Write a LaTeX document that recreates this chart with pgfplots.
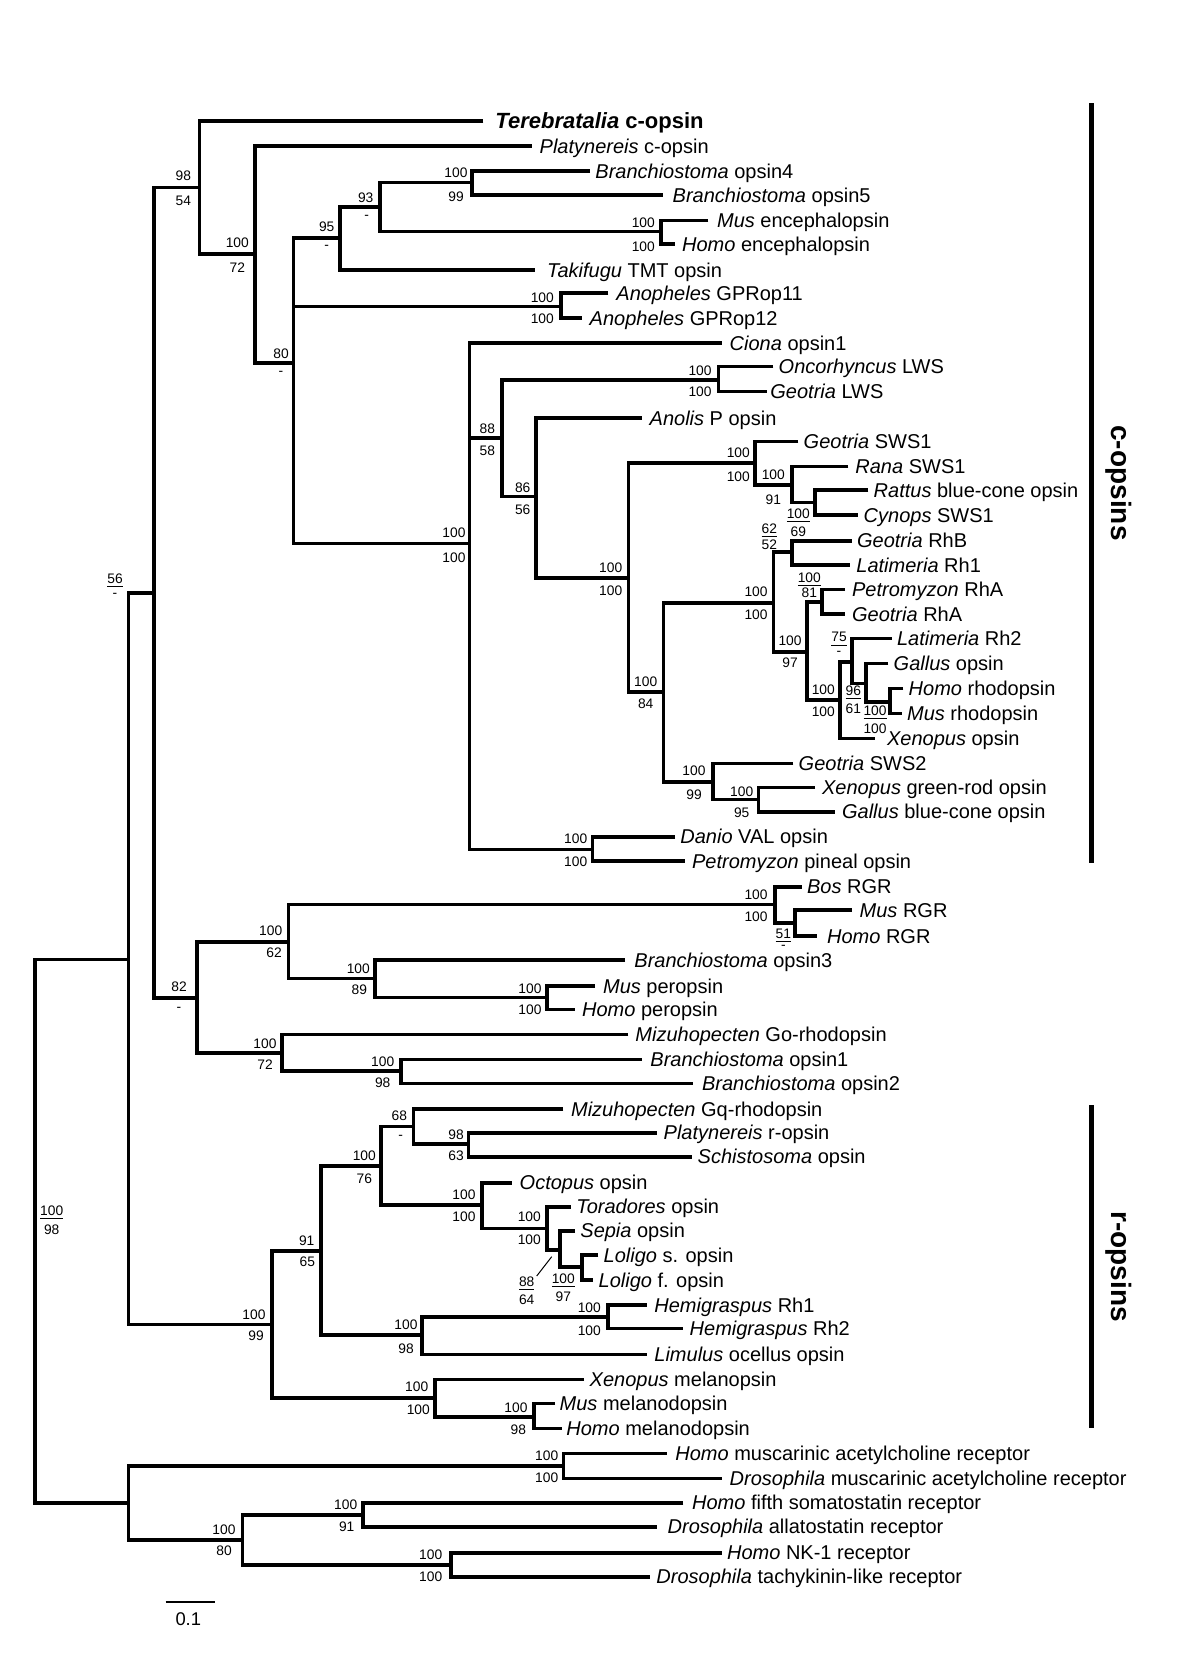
\documentclass[border=0pt]{standalone}
\usepackage{pgfplots}
\pgfplotsset{compat=1.18}
\usepackage{fontspec}
\setmainfont{Liberation Sans}
\tikzset{
  tx/.style={anchor=base west, inner sep=0pt, font=\fontsize{10}{12}\selectfont, yshift=-3.6pt},
  bsl/.style={anchor=center, inner sep=0pt, font=\fontsize{6.9}{8}\selectfont},
  br/.style={black, line width=1.8pt, line join=miter, line cap=butt},
}
\newcommand\TX[3]{\node[tx] at (axis cs:#1,#2) {#3};}
\newcommand\BS[3]{\node[bsl] at (axis cs:#1,#2) {#3};}
\newcommand\BR[1]{\addplot[br] coordinates {#1};}
\newcommand\ul[1]{\underline{#1}}
\begin{document}
\begin{tikzpicture}
\begin{axis}[
  scale only axis, width=600pt, height=828.5pt,
  xmin=0, xmax=1200, ymin=0, ymax=1657, y dir=reverse,
  hide axis, clip=false,
]
\path (rel axis cs:0,0) rectangle (rel axis cs:1,1);
% ---------------- branches ----------------
\BR{(128.3,959.3)(35,959.3)(35,1502.7)(128.3,1502.7)}
\BR{(154,592.7)(128.3,592.7)(128.3,1324.3)(271.7,1324.3)}
\BR{(199.3,187.7)(154,187.7)(154,997.7)(196.7,997.7)}
\BR{(483.3,121)(199.3,121)(199.3,254.3)(255,254.3)}
\BR{(531.7,146)(255,146)(255,363.3)(293.3,363.3)}
\BR{(340,238.3)(293.3,238.3)(293.3,543.3)(469.3,543.3)}
\BR{(293.3,306.7)(561,306.7)}
\BR{(380,207.3)(340,207.3)(340,270)(535,270)}
\BR{(471.7,182.7)(380,182.7)(380,231.7)(661,231.7)}
\BR{(590,171)(471.7,171)(471.7,195)(663.3,195)}
\BR{(708.3,220.7)(661,220.7)(661,244.3)(675,244.3)}
\BR{(608.3,293.3)(561,293.3)(561,318.3)(581.7,318.3)}
\BR{(721.7,343.3)(469.3,343.3)(469.3,849.3)(592.3,849.3)}
\BR{(469.3,438.3)(501.7,438.3)}
\BR{(718.3,380)(501.7,380)(501.7,496.7)(536,496.7)}
\BR{(773.3,366.7)(718.3,366.7)(718.3,391.7)(766.7,391.7)}
\BR{(641.7,418.3)(536,418.3)(536,577.7)(628.3,577.7)}
\BR{(755,463.3)(628.3,463.3)(628.3,691.7)(663.3,691.7)}
\BR{(798.3,441.7)(755,441.7)(755,485)(791.7,485)}
\BR{(848.3,466.7)(791.7,466.7)(791.7,502.5)(815,502.5)}
\BR{(868.3,490)(815,490)(815,515)(858.3,515)}
\BR{(773.5,602.7)(663.3,602.7)(663.3,781.7)(712.7,781.7)}
\BR{(791.7,551.7)(773.5,551.7)(773.5,651.7)(806.7,651.7)}
\BR{(851.7,540.7)(791.7,540.7)(791.7,565)(850,565)}
\BR{(821.7,601.7)(806.7,601.7)(806.7,700)(840,700)}
\BR{(845,589.3)(821.7,589.3)(821.7,614)(845,614)}
\BR{(851.7,661.7)(840,661.7)(840,738.3)(875,738.3)}
\BR{(891.7,638.3)(851.7,638.3)(851.7,683.3)(866,683.3)}
\BR{(888.3,663.3)(866,663.3)(866,701.7)(890,701.7)}
\BR{(903.3,688.3)(890,688.3)(890,713.3)(901.7,713.3)}
\BR{(793.3,763.3)(712.7,763.3)(712.7,799.3)(758.3,799.3)}
\BR{(815,787.3)(758.3,787.3)(758.3,811.7)(835,811.7)}
\BR{(675,836.7)(592.3,836.7)(592.3,861)(685,861)}
\BR{(288.3,941.7)(196.7,941.7)(196.7,1052.7)(281.7,1052.7)}
\BR{(775,904.3)(288.3,904.3)(288.3,978.3)(375,978.3)}
\BR{(801.7,886.7)(775,886.7)(775,923)(795,923)}
\BR{(851.7,910)(795,910)(795,936)(816.7,936)}
\BR{(625,960)(375,960)(375,997.3)(546.7,997.3)}
\BR{(595,986)(546.7,986)(546.7,1009.3)(575,1009.3)}
\BR{(628.3,1034.3)(281.7,1034.3)(281.7,1071)(400.7,1071)}
\BR{(641.7,1059.3)(400.7,1059.3)(400.7,1083.3)(693.3,1083.3)}
\BR{(320.7,1250.7)(271.7,1250.7)(271.7,1397.7)(435,1397.7)}
\BR{(380.7,1166)(320.7,1166)(320.7,1335)(421.7,1335)}
\BR{(413.3,1126.5)(380.7,1126.5)(380.7,1205)(481.7,1205)}
\BR{(563.3,1109)(413.3,1109)(413.3,1144)(468.3,1144)}
\BR{(656.7,1132.7)(468.3,1132.7)(468.3,1156.7)(691.7,1156.7)}
\BR{(511.7,1182.7)(481.7,1182.7)(481.7,1228.3)(546.7,1228.3)}
\BR{(570.7,1206.7)(546.7,1206.7)(546.7,1250)(560,1250)}
\BR{(575,1230.7)(560,1230.7)(560,1266.7)(581.7,1266.7)}
\BR{(598.3,1255)(581.7,1255)(581.7,1280)(593.3,1280)}
\BR{(607.7,1316.7)(421.7,1316.7)(421.7,1354.3)(646.7,1354.3)}
\BR{(646.7,1305)(607.7,1305)(607.7,1328.3)(683.3,1328.3)}
\BR{(584,1379.3)(435,1379.3)(435,1416.7)(534,1416.7)}
\BR{(555,1403.3)(534,1403.3)(534,1428.3)(561.7,1428.3)}
\BR{(563.3,1465.7)(128.3,1465.7)(128.3,1540)(242.3,1540)}
\BR{(666.7,1453.3)(563.3,1453.3)(563.3,1478.3)(721.7,1478.3)}
\BR{(362.7,1515)(242.3,1515)(242.3,1565)(451,1565)}
\BR{(683.3,1502.7)(362.7,1502.7)(362.7,1526.7)(656.7,1526.7)}
\BR{(721.7,1552.7)(451,1552.7)(451,1576.7)(650,1576.7)}
% group bars, scale bar, leader
\addplot[black, line width=2.6pt] coordinates {(1091.7,103.3)(1091.7,863.3)};
\addplot[black, line width=2.6pt] coordinates {(1091.7,1105)(1091.7,1428.3)};
\addplot[black, line width=1.1pt] coordinates {(165.7,1602.3)(215,1602.3)};
\addplot[black, line width=0.5pt] coordinates {(536.7,1276)(551.7,1256.7)};
% ---------------- taxa ----------------
\node[tx, font=\fontsize{11}{13}\selectfont\bfseries, yshift=-0.4pt] at (axis cs:495,121) {\textit{Terebratalia} c-opsin};
\TX{539.3}{146}{\textit{Platynereis} c-opsin}
\TX{595}{171}{\textit{Branchiostoma} opsin4}
\TX{672.3}{195}{\textit{Branchiostoma} opsin5}
\TX{716.7}{220.7}{\textit{Mus} encephalopsin}
\TX{681.7}{244.3}{\textit{Homo} encephalopsin}
\TX{546.7}{270}{\textit{Takifugu} TMT opsin}
\TX{616}{293.3}{\textit{Anopheles} GPRop11}
\TX{589.3}{318.3}{\textit{Anopheles} GPRop12}
\TX{729.3}{343.3}{\textit{Ciona} opsin1}
\TX{778.3}{366.7}{\textit{Oncorhyncus} LWS}
\TX{770}{391.7}{\textit{Geotria} LWS}
\TX{649.3}{418.3}{\textit{Anolis} P opsin}
\TX{803.3}{441.7}{\textit{Geotria} SWS1}
\TX{855}{466.7}{\textit{Rana} SWS1}
\TX{873.3}{490}{\textit{Rattus} blue-cone opsin}
\TX{863.3}{515}{\textit{Cynops} SWS1}
\TX{856.7}{540.7}{\textit{Geotria} RhB}
\TX{856}{565}{\textit{Latimeria} Rh1}
\TX{851.7}{589.3}{\textit{Petromyzon} RhA}
\TX{851.7}{614}{\textit{Geotria} RhA}
\TX{896.7}{638.3}{\textit{Latimeria} Rh2}
\TX{893.3}{663.3}{\textit{Gallus} opsin}
\TX{908.3}{688.3}{\textit{Homo} rhodopsin}
\TX{906.7}{713.3}{\textit{Mus} rhodopsin}
\TX{886.7}{738.3}{\textit{Xenopus} opsin}
\TX{798.3}{763.3}{\textit{Geotria} SWS2}
\TX{821.7}{787.3}{\textit{Xenopus} green-rod opsin}
\TX{841.7}{811.7}{\textit{Gallus} blue-cone opsin}
\TX{680}{836.7}{\textit{Danio} VAL opsin}
\TX{691.7}{861}{\textit{Petromyzon} pineal opsin}
\TX{806.7}{886.7}{\textit{Bos} RGR}
\TX{859.3}{910}{\textit{Mus} RGR}
\TX{826.7}{936}{\textit{Homo} RGR}
\TX{634}{960}{\textit{Branchiostoma} opsin3}
\TX{602.7}{986}{\textit{Mus} peropsin}
\TX{581.7}{1009.3}{\textit{Homo} peropsin}
\TX{635}{1034.3}{\textit{Mizuhopecten} Go-rhodopsin}
\TX{650}{1059.3}{\textit{Branchiostoma} opsin1}
\TX{701.7}{1083.3}{\textit{Branchiostoma} opsin2}
\TX{570.7}{1109}{\textit{Mizuhopecten} Gq-rhodopsin}
\TX{663.3}{1132.7}{\textit{Platynereis} r-opsin}
\TX{697.3}{1156.7}{\textit{Schistosoma} opsin}
\TX{519.3}{1182.7}{\textit{Octopus} opsin}
\TX{576}{1206.7}{\textit{Toradores} opsin}
\TX{580}{1230.7}{\textit{Sepia} opsin}
\TX{603.3}{1255}{\textit{Loligo} s. opsin}
\TX{598.3}{1280}{\textit{Loligo} f. opsin}
\TX{654}{1305}{\textit{Hemigraspus} Rh1}
\TX{689.3}{1328.3}{\textit{Hemigraspus} Rh2}
\TX{654}{1354.3}{\textit{Limulus} ocellus opsin}
\TX{589.3}{1379.3}{\textit{Xenopus} melanopsin}
\TX{559.3}{1403.3}{\textit{Mus} melanodopsin}
\TX{566}{1428.3}{\textit{Homo} melanodopsin}
\TX{675}{1453.3}{\textit{Homo} muscarinic acetylcholine receptor}
\TX{729.3}{1478.3}{\textit{Drosophila} muscarinic acetylcholine receptor}
\TX{691.7}{1502.7}{\textit{Homo} fifth somatostatin receptor}
\TX{667.3}{1526.7}{\textit{Drosophila} allatostatin receptor}
\TX{726.7}{1552.7}{\textit{Homo} NK-1 receptor}
\TX{656}{1576.7}{\textit{Drosophila} tachykinin-like receptor}
% ---------------- support values ----------------
\BS{183.3}{176}{98}\BS{183.3}{201}{54}
\BS{237.3}{242.7}{100}\BS{237.3}{267.3}{72}
\BS{281}{353.3}{80}\BS{281}{373.3}{-}
\BS{326.7}{226.7}{95}\BS{326.7}{247.3}{-}
\BS{365.7}{197.3}{93}\BS{366.7}{217.7}{-}
\BS{456}{172.7}{100}\BS{456}{196.7}{99}
\BS{643.3}{222.7}{100}\BS{643.3}{246.7}{100}
\BS{542.3}{297.3}{100}\BS{542.3}{318.7}{100}
\BS{454}{532.7}{100}\BS{454}{557.7}{100}
\BS{487.3}{429}{88}\BS{487.3}{451}{58}
\BS{700}{370.7}{100}\BS{700}{391.7}{100}
\BS{522.7}{487.3}{86}\BS{522.7}{509.3}{56}
\BS{610.7}{567.3}{100}\BS{610.7}{591}{100}
\BS{738.3}{452.7}{100}\BS{738.3}{476.7}{100}
\BS{773.3}{475}{100}\BS{773.3}{499.3}{91}
\BS{798.3}{516}{\ul{100}}\BS{798.3}{531.7}{69}
\BS{769.3}{530.3}{\ul{62}}\BS{769.3}{545}{52}
\BS{756}{591.7}{100}\BS{756}{614.3}{100}
\BS{809.3}{579.3}{\ul{100}}\BS{809.3}{592.7}{81}
\BS{790}{640.7}{100}\BS{790}{662.3}{97}
\BS{823.3}{689.3}{100}\BS{823.3}{711.7}{100}
\BS{839}{639.3}{\ul{75}}\BS{839}{653.3}{-}
\BS{853.3}{692.7}{\ul{96}}\BS{853.3}{708.3}{61}
\BS{875}{712.7}{\ul{100}}\BS{875}{728.3}{100}
\BS{645.7}{681.7}{100}\BS{645.7}{704}{84}
\BS{694}{770.7}{100}\BS{694}{795}{99}
\BS{741.7}{791.7}{100}\BS{741.7}{812.7}{95}
\BS{575.7}{838.3}{100}\BS{575.7}{861.7}{100}
\BS{756}{895}{100}\BS{756}{916.7}{100}
\BS{783.3}{936}{\ul{51}}\BS{783.3}{947.3}{-}
\BS{270.7}{930.7}{100}\BS{274}{952.7}{62}
\BS{358.3}{968.3}{100}\BS{359.3}{990}{89}
\BS{530}{989}{100}\BS{530}{1010}{100}
\BS{179}{986.7}{82}\BS{179}{1009.3}{-}
\BS{265}{1043.3}{100}\BS{265}{1065}{72}
\BS{382.7}{1061.7}{100}\BS{382.7}{1082.7}{98}
\BS{115}{580.3}{\ul{56}}\BS{115}{595}{-}
\BS{51.7}{1212.7}{\ul{100}}\BS{51.7}{1230}{98}
\BS{254}{1315}{100}\BS{256}{1336}{99}
\BS{306.7}{1240.7}{91}\BS{307.3}{1261.7}{65}
\BS{364.3}{1156}{100}\BS{364.3}{1178.3}{76}
\BS{399.3}{1116}{68}\BS{400.7}{1137.3}{-}
\BS{456}{1135}{98}\BS{456}{1156}{63}
\BS{464}{1195}{100}\BS{464}{1216.7}{100}
\BS{529.3}{1216.7}{100}\BS{529.3}{1239.3}{100}
\BS{563.3}{1280.3}{\ul{100}}\BS{563.3}{1296.7}{97}
\BS{526.7}{1283.7}{\ul{88}}\BS{526.7}{1300}{64}
\BS{589.3}{1307.7}{100}\BS{589.3}{1330.7}{100}
\BS{406}{1325}{100}\BS{406}{1348.3}{98}
\BS{416.7}{1386.7}{100}\BS{418.3}{1409.3}{100}
\BS{516}{1407.3}{100}\BS{518.3}{1429.3}{98}
\BS{546.7}{1456}{100}\BS{546.7}{1477.3}{100}
\BS{224}{1529.3}{100}\BS{224}{1551}{80}
\BS{345.7}{1504.3}{100}\BS{346.7}{1526.7}{91}
\BS{430.7}{1555}{100}\BS{430.7}{1576.7}{100}
% ---------------- group labels, scale ----------------
\node[rotate=-90, inner sep=0pt, font=\fontsize{14}{16}\selectfont\bfseries] at (axis cs:1119,483) {c-opsins};
\node[rotate=-90, inner sep=0pt, font=\fontsize{14}{16}\selectfont\bfseries] at (axis cs:1119,1266.7) {r-opsins};
\node[inner sep=0pt, font=\fontsize{9.2}{11}\selectfont] at (axis cs:188.3,1619) {0.1};
\end{axis}
\end{tikzpicture}
\end{document}
